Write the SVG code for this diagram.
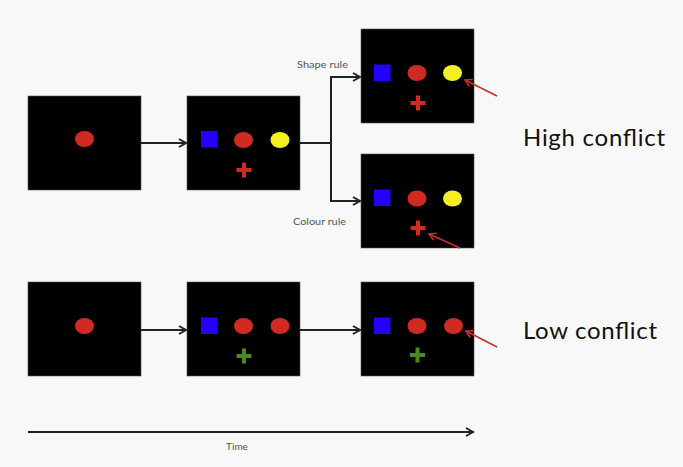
<svg xmlns="http://www.w3.org/2000/svg" width="683" height="467" viewBox="0 0 683 467">
<defs>
<style>
.scr{fill:#000;stroke:#555;stroke-width:0.6}
.red{fill:#d12a20}
.blu{fill:#2400ff}
.yel{fill:#f4ef23}
.conn{fill:none;stroke:#222;stroke-width:2}
.ptr{fill:none;stroke:#c8302a;stroke-width:1.6}
.lbl{font-family:"Lato","Liberation Sans",sans-serif;fill:#555;font-size:10px}
.big{font-family:"Lato","Liberation Sans",sans-serif;fill:#111;font-size:24px}
</style>
<marker id="ah" viewBox="0 0 10 10" refX="8" refY="5" markerWidth="5" markerHeight="5" orient="auto" markerUnits="strokeWidth">
<polyline points="1,1 8,5 1,9" fill="none" stroke="#222" stroke-width="2"/>
</marker>
<marker id="rh" viewBox="0 0 10 10" refX="8" refY="5" markerWidth="6" markerHeight="6" orient="auto" markerUnits="strokeWidth">
<polyline points="1,1 8,5 1,9" fill="none" stroke="#c8302a" stroke-width="1.6"/>
</marker>
<g id="plusR"><rect x="-7.5" y="-2" width="15" height="4"/><rect x="-2" y="-7.5" width="4" height="15"/></g>
</defs>
<rect width="683" height="467" fill="#f8f8f8"/>

<g id="screen1">
<rect class="scr" x="28" y="96" width="113" height="94"/>
<ellipse class="red" cx="84.5" cy="139" rx="9.5" ry="8"/>
</g>
<g id="screen2">
<rect class="scr" x="187" y="96" width="113" height="94"/>
<rect class="blu" x="201" y="131" width="16.5" height="16.5"/>
<ellipse class="red" cx="243.5" cy="140" rx="9.5" ry="8"/>
<ellipse class="yel" cx="280" cy="140" rx="9.5" ry="8"/>
<use href="#plusR" x="244" y="170" fill="#d12a20"/>
</g>
<g id="screen3">
<rect class="scr" x="361" y="29" width="113" height="94"/>
<rect class="blu" x="374" y="64.5" width="16.5" height="16.5"/>
<ellipse class="red" cx="417" cy="73" rx="9.5" ry="8"/>
<ellipse class="yel" cx="452.5" cy="73" rx="9.5" ry="8"/>
<use href="#plusR" x="418" y="103" fill="#d12a20"/>
</g>
<g id="screen4">
<rect class="scr" x="361" y="154" width="113" height="94"/>
<rect class="blu" x="374" y="189.5" width="16.5" height="16.5"/>
<ellipse class="red" cx="417" cy="198.5" rx="9.5" ry="8"/>
<ellipse class="yel" cx="452.5" cy="198.5" rx="9.5" ry="8"/>
<use href="#plusR" x="418" y="228" fill="#d12a20"/>
</g>
<g id="screen5">
<rect class="scr" x="28" y="282" width="113" height="94"/>
<ellipse class="red" cx="84.5" cy="326" rx="9.5" ry="8"/>
</g>
<g id="screen6">
<rect class="scr" x="187" y="282" width="113" height="94"/>
<rect class="blu" x="201" y="317.5" width="16.5" height="16.5"/>
<ellipse class="red" cx="243.5" cy="326" rx="9.5" ry="8"/>
<ellipse class="red" cx="280" cy="326" rx="9.5" ry="8"/>
<use href="#plusR" x="244" y="356" fill="#4b8a1e"/>
</g>
<g id="screen7">
<rect class="scr" x="361" y="282" width="113" height="94"/>
<rect class="blu" x="374" y="317.5" width="16.5" height="16.5"/>
<ellipse class="red" cx="417" cy="326" rx="9.5" ry="8"/>
<ellipse class="red" cx="453.5" cy="326" rx="9.5" ry="8"/>
<use href="#plusR" x="417.5" y="355" fill="#4b8a1e"/>
</g>

<g id="connectors">
<line class="conn" x1="141" y1="143" x2="186" y2="143" marker-end="url(#ah)"/>
<polyline class="conn" points="300,143 331,143"/>
<polyline class="conn" points="331,201 331,77 360,77" marker-end="url(#ah)"/>
<polyline class="conn" points="331,143 331,201 360,201" marker-end="url(#ah)"/>
<line class="conn" x1="141" y1="330" x2="186" y2="330" marker-end="url(#ah)"/>
<line class="conn" x1="300" y1="330" x2="360" y2="330" marker-end="url(#ah)"/>
<line class="conn" x1="28" y1="432" x2="473" y2="432" marker-end="url(#ah)"/>
<line class="ptr" x1="497" y1="96" x2="465" y2="80" marker-end="url(#rh)"/>
<line class="ptr" x1="460" y1="248" x2="429" y2="234" marker-end="url(#rh)"/>
<line class="ptr" x1="497" y1="347" x2="466" y2="331" marker-end="url(#rh)"/>
</g>

<g id="labels">
<text class="lbl" x="297" y="68" textLength="51" lengthAdjust="spacingAndGlyphs">Shape rule</text>
<text class="lbl" x="293" y="225" textLength="53" lengthAdjust="spacingAndGlyphs">Colour rule</text>
<text class="lbl" x="237" y="450" text-anchor="middle" fill="#333">Time</text>
<text class="big" x="523" y="146" textLength="142">High conflict</text>
<text class="big" x="523" y="339" textLength="134">Low conflict</text>
</g>
</svg>
